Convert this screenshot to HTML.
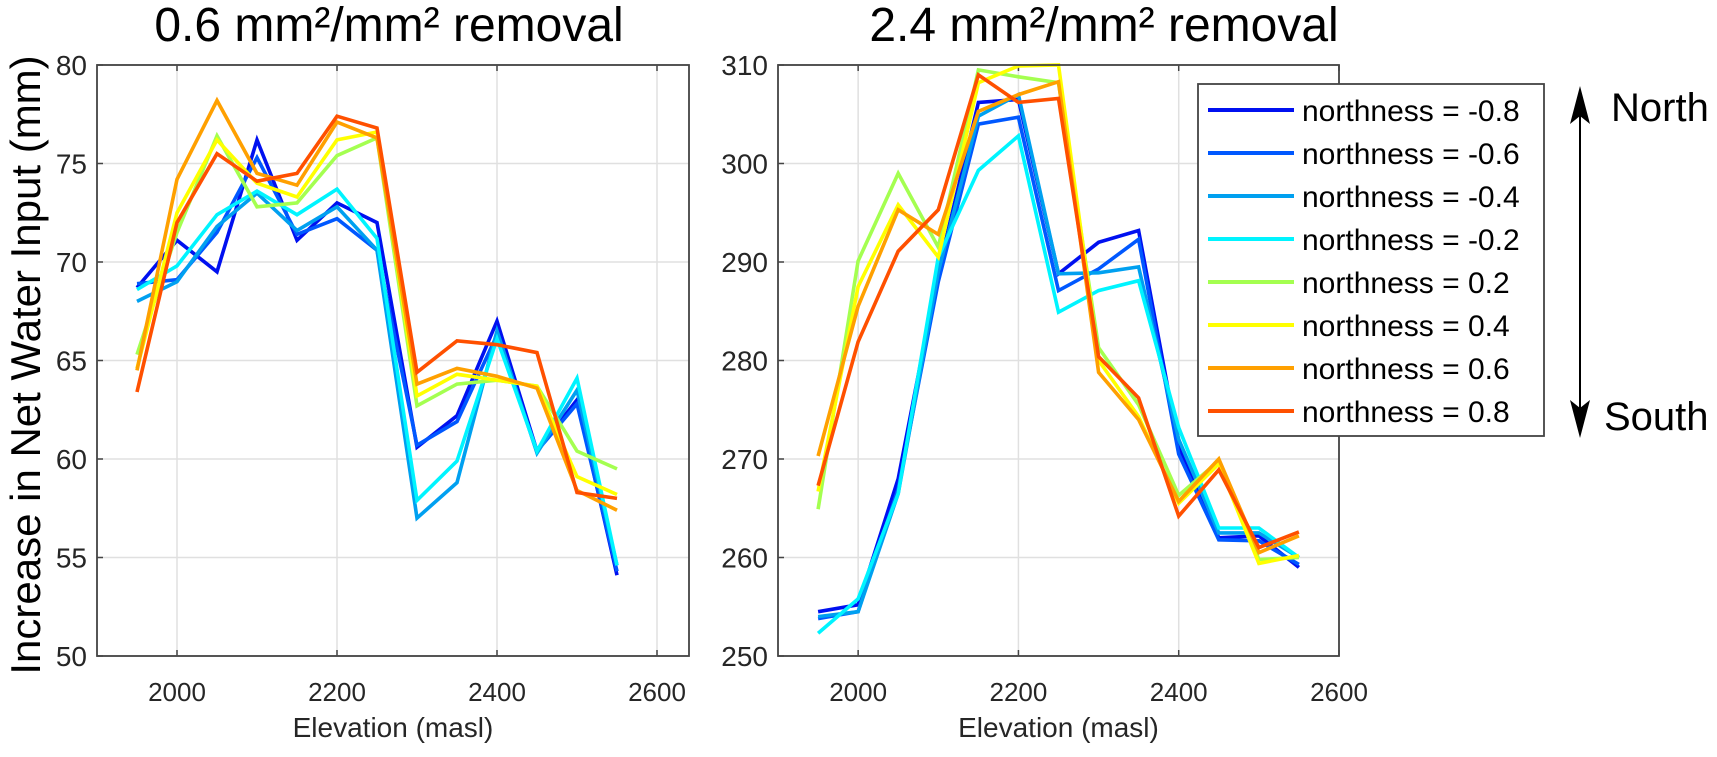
<!DOCTYPE html>
<html><head><meta charset="utf-8"><style>
body{margin:0;background:#fff;}
svg{display:block;font-family:"Liberation Sans",Arial,sans-serif;}
</style></head><body>
<svg id="fig" width="1717" height="757" viewBox="0 0 1717 757"></svg>
<script>
const elevations=[1950,2000,2050,2100,2150,2200,2250,2300,2350,2400,2450,2500,2550];
const seriesNames=["northness = -0.8","northness = -0.6","northness = -0.4","northness = -0.2","northness = 0.2","northness = 0.4","northness = 0.6","northness = 0.8"];
const seriesColors=["#0010f0","#0058ff","#00a0f0","#00f4ff","#a4ff50","#ffff00","#ffa000","#ff5000"];
const leftN08=[68.7,71.1,69.5,76.2,71.1,73.0,72.0,60.6,62.2,67.0,60.4,63.0,54.1];
const leftN06=[68.9,69.1,71.5,75.3,71.4,72.2,70.6,60.7,61.9,66.3,60.4,62.8,54.3];
const leftN04=[68.0,69.0,71.8,73.5,71.6,72.8,70.6,57.0,58.8,66.5,60.3,63.5,54.6];
const leftN02=[68.6,69.8,72.4,73.6,72.4,73.7,71.2,57.9,59.9,66.1,60.4,64.1,54.6];
const leftP02=[65.3,71.5,76.4,72.8,73.0,75.4,76.3,62.7,63.8,64.0,63.7,60.4,59.5];
const leftP04=[64.6,72.5,76.2,74.0,73.3,76.2,76.6,63.2,64.3,64.0,63.7,59.1,58.2];
const leftP06=[64.5,74.2,78.2,74.5,73.9,77.1,76.3,63.8,64.6,64.2,63.6,58.4,57.4];
const leftP08=[63.4,72.0,75.5,74.1,74.5,77.4,76.8,64.4,66.0,65.8,65.4,58.3,58.0];
const rightN08=[254.5,255.2,268.0,289.0,306.2,306.5,288.8,292.0,293.2,271.3,262.0,262.2,259.0];
const rightN06=[253.8,254.5,267.0,288.0,304.0,304.7,287.1,289.3,292.3,270.5,261.8,261.7,259.3];
const rightN04=[254.0,254.5,266.5,289.0,304.8,307.0,288.8,288.9,289.5,272.0,262.5,262.5,260.0];
const rightN02=[252.3,255.8,266.5,290.5,299.3,302.8,284.9,287.1,288.1,273.2,263.0,263.0,260.0];
const rightP02=[264.9,290.1,299.0,291.5,309.5,308.8,308.2,281.3,275.5,266.3,269.8,259.8,260.0];
const rightP04=[266.7,287.5,295.8,290.5,308.2,309.9,310.0,280.0,274.3,265.5,269.5,259.4,260.2];
const rightP06=[270.3,285.5,295.3,292.8,305.3,307.0,308.3,278.8,274.0,265.7,270.0,260.5,262.2];
const rightP08=[267.3,281.9,291.1,295.3,309.0,306.2,306.6,280.4,276.2,264.2,268.9,261.0,262.6];
const xTicks=[2000,2200,2400,2600];
const leftYTicks=[50,55,60,65,70,75,80];
const rightYTicks=[250,260,270,280,290,300,310];

const NS="http://www.w3.org/2000/svg";
const svg=document.getElementById('fig');
function mk(tag,attrs,parent){const e=document.createElementNS(NS,tag);for(const k in attrs)e.setAttribute(k,attrs[k]);(parent||svg).appendChild(e);return e;}

function drawPanel(cfg){
  const g=mk('g',{});
  
  
  const sx=v=>cfg.x0+(v-cfg.xmin)/(cfg.xmax-cfg.xmin)*(cfg.x1-cfg.x0);
  const sy=v=>cfg.y1-(v-cfg.ymin)/(cfg.ymax-cfg.ymin)*(cfg.y1-cfg.y0);
  xTicks.forEach(t=>{const X=sx(t);if(X>cfg.x1+1)return;
    const l=mk('line',{x1:X,x2:X,y1:cfg.y0,y2:cfg.y1,stroke:'#e0e0e0','stroke-width':1.5},g);
    
    
    mk('line',{x1:X,x2:X,y1:cfg.y1,y2:cfg.y1-6,stroke:'#444','stroke-width':1.5},g);
    mk('line',{x1:X,x2:X,y1:cfg.y0,y2:cfg.y0+6,stroke:'#444','stroke-width':1.5},g);
    const t2=mk('text',{x:X,y:cfg.y1+45,'text-anchor':'middle','font-size':26,fill:'#262626'},g);
    t2.textContent=t;
    
    
  });
  cfg.yTicks.forEach(t=>{const Y=sy(t);
    const l=mk('line',{x1:cfg.x0,x2:cfg.x1,y1:Y,y2:Y,stroke:'#e0e0e0','stroke-width':1.5},g);
    
    
    mk('line',{x1:cfg.x0,x2:cfg.x0+6,y1:Y,y2:Y,stroke:'#444','stroke-width':1.5},g);
    const t2=mk('text',{x:cfg.x0-10,y:Y+10,'text-anchor':'end','font-size':28,fill:'#262626'},g);
    t2.textContent=t;
    
    
  });
  cfg.series.forEach((arr,i)=>{
    const pts=arr.map((v,j)=>sx(elevations[j]).toFixed(1)+','+sy(v).toFixed(1)).join(' ');
    const p=mk('polyline',{points:pts,fill:'none',stroke:seriesColors[i],'stroke-width':3.6,'stroke-linejoin':'miter'},g);
    
    
  });
  const box=mk('rect',{x:cfg.x0,y:cfg.y0,width:cfg.x1-cfg.x0,height:cfg.y1-cfg.y0,fill:'none',stroke:'#444','stroke-width':1.8},g);
  
  
  const xl=mk('text',{x:(cfg.x0+cfg.x1)/2,y:737,'text-anchor':'middle','font-size':28,fill:'#262626'},g);
  xl.textContent='Elevation (masl)';
  
  
  const tt=mk('text',{x:cfg.titleX,y:41,'text-anchor':'middle','font-size':48,fill:'#000'},g);
  tt.textContent=cfg.title;
  
  
}
drawPanel({name:'left-panel',x0:97,x1:689,y0:65,y1:656,xmin:1900,xmax:2640,ymin:50,ymax:80,yTicks:leftYTicks,
  series:[leftN08,leftN06,leftN04,leftN02,leftP02,leftP04,leftP06,leftP08],title:'0.6 mm²/mm² removal',titleX:389});
drawPanel({name:'right-panel',x0:778,x1:1339,y0:65,y1:656,xmin:1900,xmax:2600,ymin:250,ymax:310,yTicks:rightYTicks,
  series:[rightN08,rightN06,rightN04,rightN02,rightP02,rightP04,rightP06,rightP08],title:'2.4 mm²/mm² removal',titleX:1104});

const yl=mk('text',{x:0,y:0,'text-anchor':'middle','font-size':42,fill:'#000',transform:'translate(40,365) rotate(-90)'});
yl.textContent='Increase in Net Water Input (mm)';



const lg=mk('g',{});


mk('rect',{x:1198,y:84,width:346,height:352,fill:'#fff',stroke:'#444','stroke-width':1.8},lg);
seriesNames.forEach((n,i)=>{
  const Y=110+i*43;
  const e=mk('g',{},lg);
  
  
  mk('line',{x1:1208,x2:1294,y1:Y,y2:Y,stroke:seriesColors[i],'stroke-width':4},e);
  const t=mk('text',{x:1302,y:Y+11,'font-size':30,fill:'#000'},e);
  t.textContent=n;
});

const ar=mk('g',{});


mk('line',{x1:1580,x2:1580,y1:100,y2:425,stroke:'#000','stroke-width':2},ar);
mk('polygon',{points:'1580,86 1570,124 1580,116 1590,124',fill:'#000'},ar);
mk('polygon',{points:'1580,438 1570,400 1580,408 1590,400',fill:'#000'},ar);
const tn=mk('text',{x:1611,y:121,'font-size':40,fill:'#000'},ar);
tn.textContent='North';


const ts=mk('text',{x:1604,y:430,'font-size':40,fill:'#000'},ar);
ts.textContent='South';


</script>
</body></html>
